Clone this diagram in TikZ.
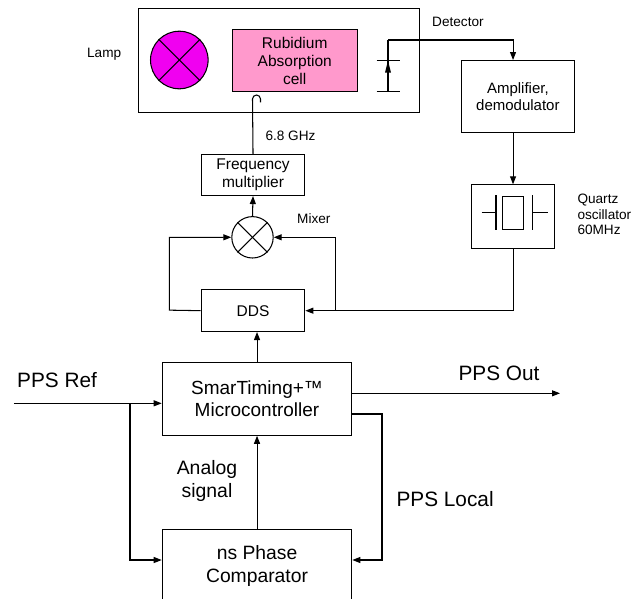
\documentclass[tikz,border=0pt]{standalone}
\usepackage{fontspec}
\setmainfont{Liberation Sans}
\usetikzlibrary{arrows.meta,calc}
\definecolor{lampmag}{RGB}{240,0,240}
\definecolor{cellpink}{RGB}{255,153,204}
\begin{document}
\begin{tikzpicture}[x=1pt,y=-1pt,
  line width=1.05pt,
  arr/.style={-{Triangle[length=8pt,width=6pt]}},
  blk/.style={draw,inner sep=0pt,align=center,anchor=north west},
  fA/.style={font=\fontsize{15.5}{18.2}\selectfont},
  fB/.style={font=\fontsize{19.3}{23}\selectfont},
  small/.style={font=\fontsize{13.6}{15.7}\selectfont,inner sep=0pt},
  big/.style={font=\fontsize{20.8}{24}\selectfont,inner sep=0pt}]
\useasboundingbox (0,0) rectangle (644,598);
% top block
\node[blk,minimum width=281pt,minimum height=104pt] (outer) at (138,8) {};
\node[draw,circle,fill=lampmag,minimum size=57.6pt,inner sep=0pt] (lamp) at (179.3,60) {};
\draw[line width=1pt] (lamp.north west) -- (lamp.south east);
\draw[line width=1pt] (lamp.north east) -- (lamp.south west);
\node[blk,fA,fill=cellpink,minimum width=125pt,minimum height=62pt] (cell) at (231.7,29.3) {Rubidium\\Absorption\\cell};
\node[small,anchor=base east] (lamplbl) at (121.7,57.3) {Lamp};
% detector
\coordinate (dtop) at (388,40);
\coordinate (dbar1) at (388,60.7);
\coordinate (dbar2) at (388,91.7);
\draw (dtop) -- (dbar2);
\draw (376.7,60.7) -- (400,60.7);
\draw (376.7,91.7) -- (400,91.7);
\fill (dbar1) -- (385,72.7) -- (391,72.7) -- cycle;
\node[small,anchor=base west] (detlbl) at (431.7,26.7) {Detector};
% amplifier and quartz
\node[blk,font=\fontsize{15}{16.8}\selectfont,minimum width=113.3pt,minimum height=72.3pt] (amp) at (460.7,60) {Amplifier,\\demodulator};
\node[blk,minimum width=83pt,minimum height=63.4pt] (quartz) at (471,184.3) {};
\node[draw,inner sep=0pt,minimum width=20.6pt,minimum height=33.3pt] (xtal) at (513,212.7) {};
\draw (496,195) -- (496,230);
\draw (532.7,195) -- (532.7,230);
\draw (481.7,212.7) -- (496,212.7);
\draw (532.7,212.7) -- (548.3,212.7);
\node[small,anchor=north west,align=left] (qlbl) at (577,193.5) {Quartz\\oscillator\\60MHz};
\draw[arr] (dtop) -| (quartz.north |- amp.north);
\draw[arr] (quartz.north |- amp.south) -- (quartz.north);
% frequency multiplier, mixer, DDS
\node[blk,fA,minimum width=103.6pt,minimum height=41pt] (freq) at (200.7,154) {Frequency\\multiplier};
\node[draw,circle,minimum size=41.4pt,inner sep=0pt] (mixer) at (252.5,237.3) {};
\draw[line width=1pt] (mixer.north west) -- (mixer.south east);
\draw[line width=1pt] (mixer.north east) -- (mixer.south west);
\node[small,anchor=base west] (mixlbl) at (296.7,223.3) {Mixer};
\node[blk,fA,minimum width=103.6pt,minimum height=41.7pt] (dds) at (200.7,289.3) {DDS};
\coordinate (hooktop) at (252.5,99);
\draw (freq.north) -- (hooktop) arc[start angle=180,end angle=0,radius=4pt] -- ++(0,3.3);
\node[small,anchor=base west] (ghz) at (265,140) {6.8 GHz};
\draw[arr] (mixer.north) -- (freq.south);
\draw[arr] (quartz.south) |- (dds.east);
\coordinate (jq) at (335.7,310.15);
\draw[arr] (jq) |- (mixer.east);
\coordinate (jl) at (169.3,310.15);
\draw[arr] (dds.west) -- (jl) |- (mixer.west);
% microcontroller and comparator
\node[blk,font=\fontsize{19}{22.4}\selectfont,minimum width=189.6pt,minimum height=72.7pt] (smar) at (161.7,362) {SmarTiming+™\\Microcontroller};
\node[blk,fB,minimum width=189.6pt,minimum height=72pt] (comp) at (161.7,529) {ns Phase\\Comparator};
\draw[arr] (smar.north) -- (smar.north |- dds.south);
\draw[arr] (comp.north) -- (smar.south);
\node[font=\fontsize{19.4}{22.2}\selectfont,align=center,inner sep=0pt] (anlbl) at (207,481) {Analog\\signal};
% PPS lines
\coordinate (refin) at (13.75,403.3);
\coordinate (rj) at (130,403.3);
\draw[arr] (refin) -- (refin -| smar.west);
\draw[arr] (rj) |- (comp.west |- 0,560);
\node[big,anchor=base west] (reflbl) at (16.7,387.3) {PPS Ref};
\coordinate (ppsout) at (560,393.3);
\draw[arr] (smar.east |- ppsout) -- (ppsout);
\node[big,anchor=base west] (outlbl) at (458,380.7) {PPS Out};
\coordinate (lj) at (382,414);
\draw[arr] (smar.east |- lj) -- (lj) |- (comp.east |- 0,560);
\node[big,anchor=base west] (loclbl) at (396,506.7) {PPS Local};
\end{tikzpicture}
\end{document}
